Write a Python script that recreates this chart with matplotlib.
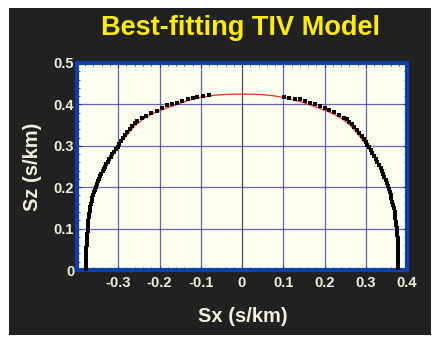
import matplotlib
matplotlib.use("Agg")
import matplotlib.pyplot as plt
from matplotlib.patches import Rectangle

plt.rcParams['font.family'] = ['Liberation Sans', 'DejaVu Sans']

# Best-fitting TIV slowness curve (Sx, Sz in s/km)
model_sx = [-0.379, -0.3785, -0.3775, -0.376, -0.3745, -0.372, -0.368, -0.362, -0.352,
            -0.340, -0.327, -0.313, -0.300, -0.280, -0.260, -0.240, -0.220, -0.200,
            -0.175, -0.150, -0.125, -0.100, -0.075, -0.050, -0.025, 0.000,
            0.025, 0.050, 0.075, 0.100, 0.125, 0.150, 0.175, 0.200, 0.220, 0.240,
            0.260, 0.280, 0.300, 0.313, 0.327, 0.340, 0.352, 0.362, 0.368, 0.372,
            0.3745, 0.376, 0.3775, 0.3785, 0.379]
model_sz = [0.000, 0.025, 0.050, 0.075, 0.100, 0.125, 0.150, 0.175, 0.200,
            0.230, 0.260, 0.280, 0.299, 0.325, 0.348, 0.364, 0.376, 0.385,
            0.394, 0.403, 0.411, 0.417, 0.421, 0.4235, 0.4245, 0.425,
            0.4245, 0.4235, 0.421, 0.417, 0.411, 0.404, 0.395, 0.386, 0.378, 0.367,
            0.352, 0.330, 0.303, 0.284, 0.262, 0.232, 0.201, 0.175, 0.150, 0.125,
            0.100, 0.075, 0.050, 0.025, 0.000]

# Observed slowness picks, negative offsets
obs_left_sx = [-0.3790, -0.3788, -0.3785, -0.3782, -0.3780, -0.3776, -0.3772, -0.3768,
               -0.3762, -0.3757, -0.3750, -0.3745, -0.3738, -0.3730, -0.3722, -0.3712,
               -0.3700, -0.3688, -0.3675, -0.3660, -0.3645, -0.3628, -0.3608, -0.3590,
               -0.3568, -0.3545, -0.3520, -0.3495, -0.3468, -0.3440, -0.3412, -0.3380,
               -0.3350, -0.3318, -0.3285, -0.3250, -0.3215, -0.3178, -0.3140, -0.3100,
               -0.3060, -0.3015, -0.2970, -0.2925, -0.2880, -0.2830, -0.2780, -0.2720,
               -0.2660, -0.2600, -0.2540, -0.2430, -0.2330, -0.2200, -0.2060, -0.1950,
               -0.1820, -0.1700, -0.1580, -0.1450, -0.1320, -0.1200, -0.1080, -0.0950,
               -0.0800]
obs_left_sz = [0.002, 0.010, 0.018, 0.027, 0.035, 0.044, 0.052, 0.061,
               0.070, 0.078, 0.087, 0.095, 0.103, 0.111, 0.119, 0.127,
               0.135, 0.143, 0.151, 0.159, 0.166, 0.174, 0.181, 0.188,
               0.194, 0.201, 0.208, 0.214, 0.220, 0.226, 0.232, 0.238,
               0.244, 0.250, 0.256, 0.262, 0.268, 0.274, 0.280, 0.286,
               0.292, 0.298, 0.305, 0.312, 0.318, 0.326, 0.333, 0.340,
               0.347, 0.354, 0.360, 0.366, 0.373, 0.379, 0.385, 0.392,
               0.398, 0.401, 0.404, 0.409, 0.413, 0.416, 0.419, 0.421,
               0.422]

# Observed slowness picks, positive offsets
obs_right_sx = [0.103, 0.115, 0.128, 0.140, 0.152, 0.164, 0.176, 0.189, 0.200, 0.212,
                0.224, 0.236, 0.247, 0.254,
                0.260, 0.266, 0.272, 0.278, 0.284, 0.290, 0.295, 0.300, 0.304, 0.308,
                0.312, 0.316, 0.320, 0.324, 0.328, 0.332, 0.336, 0.339, 0.342, 0.345,
                0.348, 0.351, 0.354, 0.356, 0.358, 0.360, 0.362, 0.364, 0.366, 0.368,
                0.370, 0.371, 0.372, 0.373, 0.374, 0.375, 0.376, 0.3765, 0.377, 0.3775,
                0.378, 0.378, 0.3785, 0.3785, 0.379, 0.379, 0.379, 0.379]
obs_right_sz = [0.418, 0.416, 0.414, 0.412, 0.408, 0.404, 0.400, 0.396, 0.391, 0.387,
                0.381, 0.375, 0.368, 0.364,
                0.358, 0.352, 0.346, 0.339, 0.331, 0.323, 0.316, 0.309, 0.303, 0.296,
                0.289, 0.282, 0.275, 0.268, 0.261, 0.254, 0.246, 0.239, 0.232, 0.225,
                0.218, 0.211, 0.203, 0.196, 0.188, 0.181, 0.173, 0.165, 0.157, 0.149,
                0.141, 0.133, 0.125, 0.117, 0.109, 0.101, 0.093, 0.085, 0.077, 0.069,
                0.061, 0.053, 0.045, 0.037, 0.029, 0.021, 0.013, 0.005]

x_ticks = [-0.4, -0.3, -0.2, -0.1, 0.0, 0.1, 0.2, 0.3, 0.4]
x_tick_labels = ['', '-0.3', '-0.2', '-0.1', '0', '0.1', '0.2', '0.3', '0.4']
y_ticks = [0.0, 0.1, 0.2, 0.3, 0.4, 0.5]
y_tick_labels = ['0', '0.1', '0.2', '0.3', '0.4', '0.5']

W, H = 441, 339
fig = plt.figure(figsize=(W / 100, H / 100), dpi=100, facecolor='white')

# dark slide panel behind everything
panel = Rectangle((9 / W, 4 / H), 422 / W, 327 / H, transform=fig.transFigure,
                  facecolor='#212121', edgecolor='none', zorder=-10)
fig.add_artist(panel)

fig.text(240 / W, 1 - 28 / H, 'Best-fitting TIV Model', color='#ffee00',
         fontsize=19.5, fontweight='bold', ha='center', va='center')

ax = fig.add_axes([77 / W, 1 - 270 / H, 330 / W, 207 / H])
ax.set_facecolor('#fffff0')
ax.set_xlim(-0.4, 0.4)
ax.set_ylim(0, 0.5)

ax.set_xticks(x_ticks)
ax.set_xticklabels(x_tick_labels)
ax.set_yticks(y_ticks)
ax.set_yticklabels(y_tick_labels)
ax.set_xticks([i * 0.02 - 0.4 for i in range(41)], minor=True)
ax.set_yticks([i * 0.02 for i in range(26)], minor=True)

ax.grid(True, which='major', color='#4a4aa6', linewidth=0.9, alpha=0.85)
for gl, v in zip(ax.get_xgridlines(), x_ticks):
    if v == 0.0:
        gl.set_color('#2a2a3a')

ax.tick_params(which='both', direction='in', top=True, right=True, color='#1a2a80')
ax.tick_params(which='major', length=3, width=0.8, pad=4)
ax.tick_params(which='minor', length=2, width=0.6)
ax.tick_params(axis='y', which='major', pad=2)
for lab in ax.get_xticklabels() + ax.get_yticklabels():
    lab.set_color('#f2f0dc')
    lab.set_fontweight('bold')
    lab.set_fontsize(10.5)

for sp in ax.spines.values():
    sp.set_color('#0b3fae')
    sp.set_linewidth(3)

ax.plot(model_sx, model_sz, color='#ff2a2a', linewidth=0.9, zorder=3)
ax.plot(obs_left_sx, obs_left_sz, 's', color='black', markersize=2.35,
        markeredgewidth=0, zorder=4)
ax.plot(obs_right_sx, obs_right_sz, 's', color='black', markersize=2.35,
        markeredgewidth=0, zorder=4)

fig.text(243 / W, 1 - 316 / H, 'Sx (s/km)', color='#f2f0dc', fontsize=14.5,
         fontweight='bold', ha='center', va='center')
fig.text(33 / W, 1 - 167 / H, 'Sz (s/km)', color='#f2f0dc', fontsize=14.5,
         fontweight='bold', ha='center', va='center', rotation=90)

fig.savefig('out.png', dpi=100, facecolor='white')
